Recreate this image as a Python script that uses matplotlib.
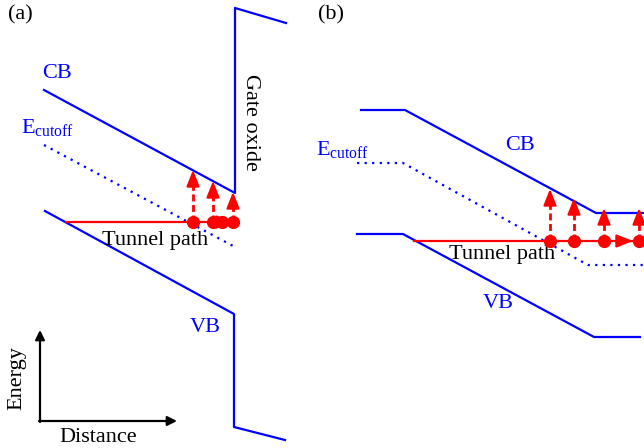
import matplotlib
matplotlib.use("Agg")
import matplotlib.pyplot as plt

plt.rcParams['font.family'] = ['Liberation Serif', 'DejaVu Serif']
plt.rcParams['mathtext.fontset'] = 'custom'
plt.rcParams['mathtext.rm'] = 'Liberation Serif'
plt.rcParams['mathtext.default'] = 'regular'

BLUE = '#0000ff'
RED = '#ff0000'

# ---- panel (a) band diagram (pixel-like coordinates) ----
cb_a_x = [44, 235, 235, 286]
cb_a_y = [90, 193, 8, 23]
ec_a_x = [44, 235]
ec_a_y = [145, 247]
vb_a_x = [45, 234, 234, 285]
vb_a_y = [211, 314, 427, 440]
tun_a_x = [66, 233]
tun_a_y = [222, 222]
dots_a_x = [193, 213, 222, 233]
arr_a_x = [193, 213, 233]
arr_a_top = [170, 181, 192]

# ---- panel (b) ----
cb_b_x = [361, 405, 596, 644]
cb_b_y = [110, 110, 213, 213]
ec_b_x = [357, 403, 588, 644]
ec_b_y = [163, 163, 265, 265]
vb_b_x = [357, 403, 594, 640]
vb_b_y = [234, 234, 337, 337]
tun_b_x = [414, 644]
tun_b_y = [241, 241]
dots_b_x = [550, 574, 604, 639]
arr_b_x = [550, 574, 604, 639]
arr_b_top = [189, 198, 208, 208]

fig = plt.figure(figsize=(6.44, 4.48), dpi=100)
ax = fig.add_axes([0, 0, 1, 1])
ax.set_xlim(0, 644)
ax.set_ylim(448, 0)
ax.axis('off')

lw = 1.6
ax.plot(cb_a_x, cb_a_y, color=BLUE, lw=lw)
ax.plot(ec_a_x, ec_a_y, color=BLUE, lw=lw, ls=(0, (1, 2.4)))
ax.plot(vb_a_x, vb_a_y, color=BLUE, lw=lw)
ax.plot(cb_b_x, cb_b_y, color=BLUE, lw=lw)
ax.plot(ec_b_x, ec_b_y, color=BLUE, lw=lw, ls=(0, (1, 2.4)))
ax.plot(vb_b_x, vb_b_y, color=BLUE, lw=lw)

HEAD = '-|>,head_length=0.7,head_width=0.28'


def tunnel(tx, ty, dx, ax_x, ax_top, harrow_x):
    y0 = ty[0]
    ax.plot(tx, ty, color=RED, lw=lw, zorder=3)
    for x, top in zip(ax_x, ax_top):
        ax.plot([x, x], [y0, top + 10], color=RED, lw=lw + 0.4, ls=(0, (2.5, 1.3)), zorder=3)
        ax.annotate('', xy=(x, top), xytext=(x, top + 14),
                    arrowprops=dict(arrowstyle=HEAD, color=RED, lw=lw,
                                    mutation_scale=14, shrinkA=0, shrinkB=0),
                    zorder=4)
    ax.annotate('', xy=(harrow_x + 7, y0), xytext=(harrow_x - 7, y0),
                arrowprops=dict(arrowstyle=HEAD, color=RED, lw=lw,
                                mutation_scale=14, shrinkA=0, shrinkB=0),
                zorder=4)
    ax.plot(dx, [y0] * len(dx), 'o', color=RED, ms=8.5, zorder=5)


tunnel(tun_a_x, tun_a_y, dots_a_x, arr_a_x, arr_a_top, 226)
tunnel(tun_b_x, tun_b_y, dots_b_x, arr_b_x, arr_b_top, 626)

fs = 16
ax.text(8, 15, '(a)', fontsize=fs, ha='left', va='center')
ax.text(318, 15, '(b)', fontsize=fs, ha='left', va='center')
ax.text(42, 74, 'CB', fontsize=fs, color=BLUE, ha='left', va='center')
ax.text(21, 128, r'E$_{cutoff}$', fontsize=fs, color=BLUE, ha='left', va='center')
ax.text(251, 122, 'Gate oxide', fontsize=fs, rotation=-90, ha='center', va='center')
ax.text(155, 240, 'Tunnel path', fontsize=fs, ha='center', va='center')
ax.text(205, 328, 'VB', fontsize=fs, color=BLUE, ha='center', va='center')

ax.text(520, 145, 'CB', fontsize=fs, color=BLUE, ha='center', va='center')
ax.text(316, 150, r'E$_{cutoff}$', fontsize=fs, color=BLUE, ha='left', va='center')
ax.text(502, 255, 'Tunnel path', fontsize=fs, ha='center', va='center')
ax.text(498, 303, 'VB', fontsize=fs, color=BLUE, ha='center', va='center')

# Energy / Distance axes
ax.annotate('', xy=(40, 330), xytext=(40, 422),
            arrowprops=dict(arrowstyle='-|>', color='black', lw=1.6,
                            mutation_scale=14, shrinkA=0, shrinkB=0))
ax.annotate('', xy=(177, 421), xytext=(39, 421),
            arrowprops=dict(arrowstyle='-|>', color='black', lw=1.6,
                            mutation_scale=14, shrinkA=0, shrinkB=0))
ax.text(17, 378, 'Energy', fontsize=fs, rotation=90, ha='center', va='center')
ax.text(98, 437, 'Distance', fontsize=fs, ha='center', va='center')

fig.savefig('out.png', dpi=100)
